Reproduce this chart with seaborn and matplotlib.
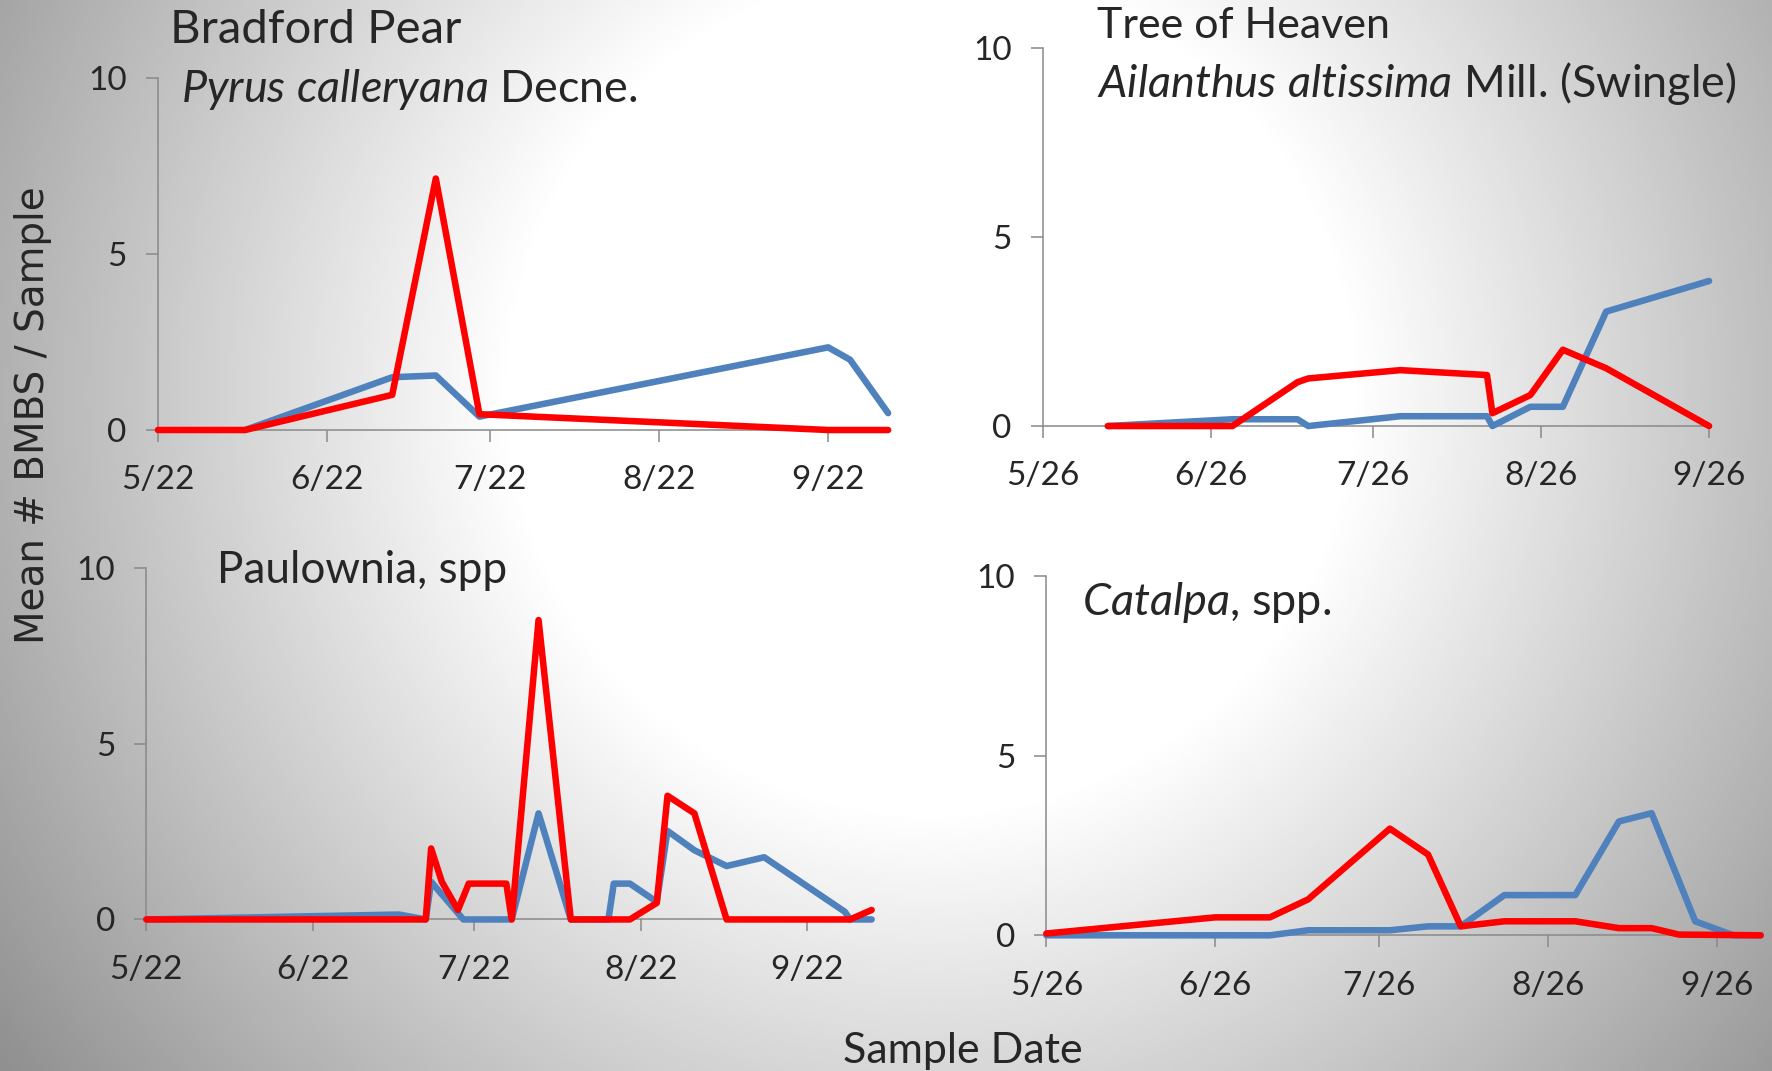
import numpy as np
import pandas as pd
import matplotlib
matplotlib.use("Agg")
import matplotlib.pyplot as plt
import matplotlib.dates as mdates
import seaborn as sns

# Datos (mes/día; el año es supuesto)
pear_red_dates = ["5/22", "6/7", "7/4", "7/12", "7/20", "9/22", "9/26", "10/3"]
pear_red = [0, 0, 1.0, 7.15, 0.45, 0, 0, 0]
pear_blue_dates = ["6/7", "7/4", "7/12", "7/20", "9/22", "9/26", "10/3"]
pear_blue = [0, 1.5, 1.55, 0.38, 2.35, 2.0, 0.48]

toh_dates = ["6/7", "6/30", "7/12", "7/14", "7/31", "8/16", "8/17", "8/24", "8/30", "9/7", "9/26"]
toh_red = [0, 0, 1.16, 1.26, 1.48, 1.35, 0.34, 0.82, 2.02, 1.53, 0]
toh_blue = [0, 0.18, 0.18, 0, 0.26, 0.26, 0, 0.51, 0.51, 3.03, 3.84]

pau_red_dates = ["5/22", "7/13", "7/14", "7/16", "7/19", "7/21", "7/28", "7/29", "8/3",
                 "8/9", "8/20", "8/25", "8/27", "9/1", "9/7", "9/30", "10/4"]
pau_red = [0, 0, 2.02, 1.07, 0.27, 1.02, 1.02, 0, 8.52, 0, 0, 0.47, 3.52, 3.02, 0, 0, 0.27]
pau_blue_dates = ["5/22", "7/8", "7/13", "7/14", "7/20", "7/29", "8/3", "8/9", "8/16", "8/17",
                  "8/20", "8/25", "8/27", "9/1", "9/7", "9/14", "9/29", "9/30", "10/4"]
pau_blue = [0, 0.14, 0, 1.07, 0, 0, 3.02, 0, 0, 1.02, 1.02, 0.5, 2.52, 1.97, 1.52, 1.77, 0.22, 0, 0]

cat_red_dates = ["5/26", "6/26", "7/6", "7/13", "7/28", "8/4", "8/10", "8/18", "8/31",
                 "9/8", "9/14", "9/19", "10/4"]
cat_red = [0.05, 0.5, 0.5, 1.0, 2.97, 2.25, 0.25, 0.39, 0.39, 0.2, 0.2, 0.02, 0]
cat_blue_dates = ["5/26", "7/6", "7/13", "7/28", "8/4", "8/10", "8/18", "8/31", "9/8",
                  "9/14", "9/22", "9/29", "10/4"]
cat_blue = [0, 0, 0.14, 0.14, 0.25, 0.25, 1.12, 1.12, 3.17, 3.4, 0.39, 0, 0]

ticks_22 = ["5/22", "6/22", "7/22", "8/22", "9/22"]
ticks_26 = ["5/26", "6/26", "7/26", "8/26", "9/26"]
y_ticks = [0, 5, 10]

RED = "#FF0000"
BLUE = "#4F81BD"
GRIS = "#898989"
FUENTE = "Lato"

sns.set_style("ticks")
plt.rcParams["font.family"] = [FUENTE, "DejaVu Sans"]
plt.rcParams["mathtext.fontset"] = "custom"
plt.rcParams["mathtext.rm"] = FUENTE
plt.rcParams["mathtext.it"] = FUENTE + ":italic"


def fechas(lista):
    return pd.to_datetime(["2013/" + s for s in lista], format="%Y/%m/%d")


fig = plt.figure(figsize=(17.72, 10.71), dpi=100)

# fondo con degradado radial (blanco al centro, gris en los bordes)
H, W = 1071, 1772
yy, xx = np.mgrid[0:H:3, 0:W:3]
r = np.hypot(xx - 930, yy - 390)
shade = 1 - 0.42 * np.clip((r - 420) / 700, 0, 1.2)
bg = fig.add_axes([0, 0, 1, 1], zorder=-10)
bg.imshow(shade, cmap="gray", vmin=0, vmax=1, extent=[0, 1, 0, 1], aspect="auto",
          interpolation="bilinear")
bg.axis("off")


def panel(rect, red_d, red_v, blue_d, blue_v, ticks):
    ax = fig.add_axes(rect)
    ax.set_facecolor("none")
    sns.lineplot(x=fechas(blue_d), y=blue_v, ax=ax, color=BLUE, lw=4.7, clip_on=False,
                 zorder=3, estimator=None, sort=False, solid_joinstyle="round")
    sns.lineplot(x=fechas(red_d), y=red_v, ax=ax, color=RED, lw=4.7, clip_on=False,
                 zorder=4, estimator=None, sort=False, solid_joinstyle="round")
    tick_dates = fechas(ticks)
    fin = max(fechas(red_d).max(), fechas(blue_d).max())
    ax.set_xlim(mdates.date2num(tick_dates[0]), mdates.date2num(fin))
    ax.set_xticks(mdates.date2num(tick_dates))
    ax.set_xticklabels(ticks)
    ax.set_ylim(0, 10)
    ax.set_yticks(y_ticks)
    ax.set_xlabel("")
    ax.set_ylabel("")
    for s in ["top", "right"]:
        ax.spines[s].set_visible(False)
    for s in ["left", "bottom"]:
        ax.spines[s].set_color(GRIS)
        ax.spines[s].set_linewidth(1.1)
    ax.tick_params(axis="x", direction="out", length=8.5, width=1.1, color=GRIS,
                   labelsize=24, pad=17)
    ax.tick_params(axis="y", direction="out", length=8.5, width=1.1, color=GRIS,
                   labelsize=24, pad=14)
    return ax


panel([0.0891, 0.5985, 0.4121, 0.3284], pear_red_dates, pear_red, pear_blue_dates, pear_blue, ticks_22)
panel([0.5885, 0.6022, 0.3760, 0.3527], toh_dates, toh_red, toh_dates, toh_blue, ticks_26)
panel([0.0826, 0.1415, 0.4093, 0.3281], pau_red_dates, pau_red, pau_blue_dates, pau_blue, ticks_22)
panel([0.5905, 0.1267, 0.4031, 0.3353], cat_red_dates, cat_red, cat_blue_dates, cat_blue, ticks_26)


def texto(x, y, s, size, **kw):
    fig.text(x / W, 1 - y / H, s, fontsize=size, family=FUENTE, va="baseline", **kw)


texto(170, 43, "Bradford Pear", 34)
texto(181, 102, r"$\mathit{Pyrus\ calleryana}$ Decne.", 32.3)
texto(1097, 38, "Tree of Heaven", 31)
texto(1097, 97, r"$\mathit{Ailanthus\ altissima}$ Mill. (Swingle)", 32.4)
texto(217, 583, "Paulownia, spp", 31.8)
texto(1082, 615, r"$\mathit{Catalpa}$, spp.", 32.5)
texto(963, 1063, "Sample Date", 31, ha="center")
fig.text(33 / W, 1 - 415 / H, "Mean # BMBS / Sample", rotation=90, fontsize=28,
         family="DejaVu Sans", ha="center", va="center")

fig.savefig("out.png", dpi=100)
